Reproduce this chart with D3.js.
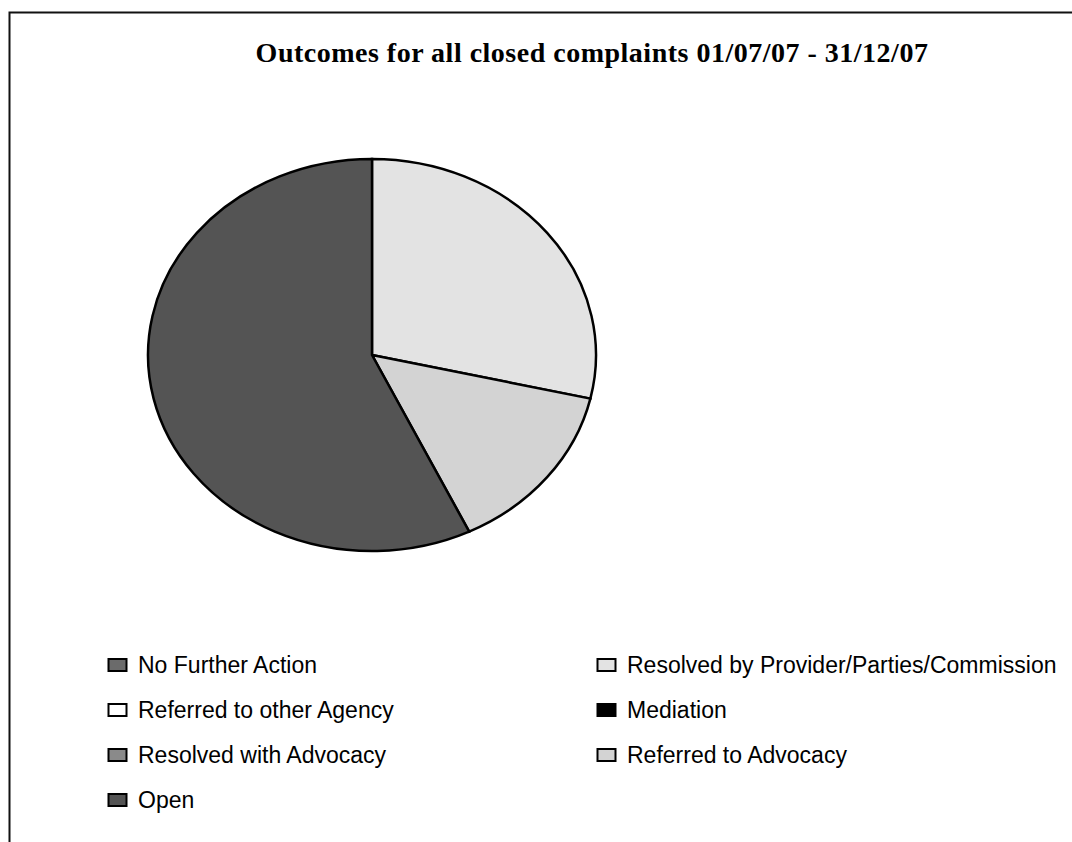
<!DOCTYPE html>
<html>
<head>
<meta charset="utf-8">
<script src="https://cdn.jsdelivr.net/npm/d3@7"></script>
<style>
  html, body { margin: 0; padding: 0; background: #fff; overflow: hidden; }
</style>
</head>
<body>
<svg id="chart" width="1072" height="842"></svg>
<script>
// Outcome categories, in series order
const categories = [
  "No Further Action",
  "Resolved by Provider/Parties/Commission",
  "Referred to other Agency",
  "Mediation",
  "Resolved with Advocacy",
  "Referred to Advocacy",
  "Open"
];
// Number of closed complaints per outcome
const counts = [0, 2, 0, 0, 0, 1, 4];
// Fill colour for each outcome
const fills = ["#6b6b6b", "#e3e3e3", "#ffffff", "#000000", "#8a8a8a", "#d3d3d3", "#545454"];

const titleText = "Outcomes for all closed complaints 01/07/07 - 31/12/07";

const W = 1072, H = 842;
const svg = d3.select("#chart");

// Chart frame
svg.append("rect")
  .attr("x", 9.5).attr("y", 12.5)
  .attr("width", 1200).attr("height", 1000)
  .attr("fill", "#fff")
  .attr("stroke", "#111").attr("stroke-width", 2);

// Title
svg.append("text")
  .attr("x", 592).attr("y", 62)
  .attr("text-anchor", "middle")
  .attr("font-family", "'Liberation Serif', 'DejaVu Serif', serif")
  .attr("font-weight", "bold")
  .attr("font-size", 28)
  .attr("letter-spacing", 0.5)
  .attr("fill", "#000")
  .text(titleText);

// Pie, drawn as a circle then stretched vertically into an ellipse
const cx = 372, cy = 355, rx = 224, ry = 196;
const data = categories.map((c, i) => ({ name: c, value: counts[i], fill: fills[i] }));
const pie = d3.pie().value(d => d.value).sort(null);
const arc = d3.arc().innerRadius(0).outerRadius(rx);

const pieG = svg.append("g")
  .attr("transform", `translate(${cx},${cy}) scale(1,${ry / rx})`);

pieG.selectAll("path")
  .data(pie(data).filter(d => d.data.value > 0))
  .join("path")
  .attr("d", arc)
  .attr("fill", d => d.data.fill)
  .attr("stroke", "#000")
  .attr("stroke-width", 2.5)
  .attr("stroke-linejoin", "miter")
  .attr("vector-effect", "non-scaling-stroke");

// Legend: two columns, filled row by row
const legendX = [108, 597];
const legendY0 = 665, legendDY = 45;
const legend = svg.append("g");
data.forEach((d, i) => {
  const col = i % 2, row = Math.floor(i / 2);
  const x = legendX[col], y = legendY0 + row * legendDY;
  legend.append("rect")
    .attr("x", x + 0.5).attr("y", y - 6)
    .attr("width", 18).attr("height", 12)
    .attr("fill", d.fill)
    .attr("stroke", "#000").attr("stroke-width", 2);
  legend.append("text")
    .attr("x", x + 30).attr("y", y + 8)
    .attr("font-family", "'Liberation Sans', Arial, sans-serif")
    .attr("font-size", 23)
    .attr("fill", "#000")
    .text(d.name);
});
</script>
</body>
</html>
